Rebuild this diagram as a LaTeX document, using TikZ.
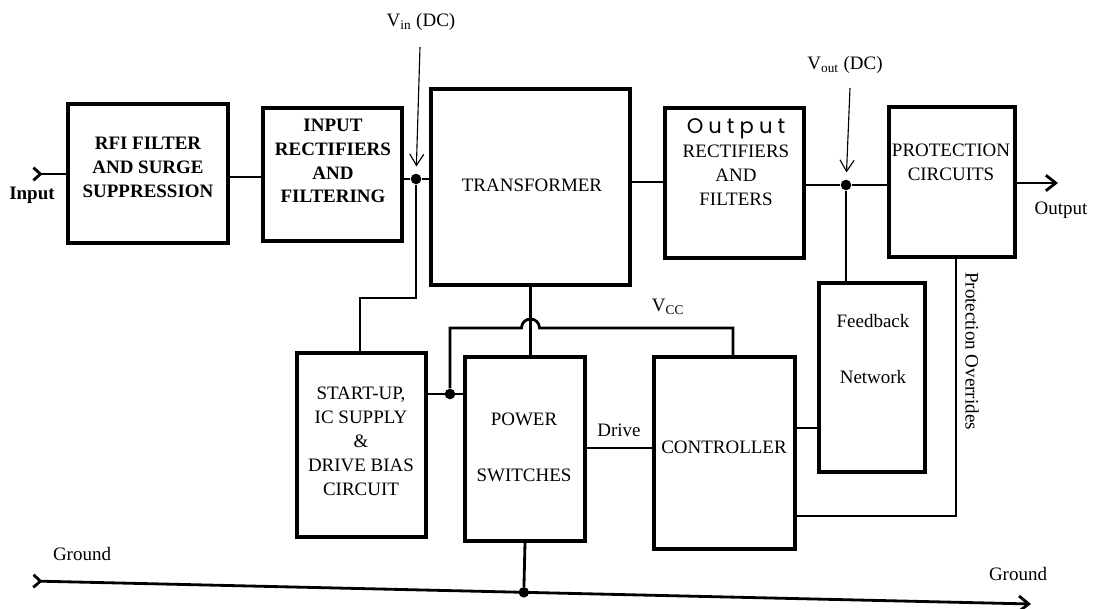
\documentclass[tikz,border=0pt]{standalone}
\usepackage{fontspec}
\setmainfont{Liberation Serif}
\newfontfamily\handfont[LetterSpace=24]{Poppins}
\usetikzlibrary{arrows.meta,fit,calc}

\begin{document}
\begin{tikzpicture}[x=0.025cm,y=-0.025cm,
  blk/.style={draw, line width=2.4pt, inner sep=0pt},
  txt/.style={align=center, inner sep=0pt, font=\fontsize{13.5}{17}\selectfont},
  btxt/.style={txt, font=\fontsize{13.5}{17}\selectfont\bfseries},
  wire/.style={line width=2pt},
  feed/.style={line width=0.8pt, -{Straight Barb[length=8pt,width=10pt]}},
  tail/.style={{Straight Barb[reversed,length=5pt,width=9pt]}-},
  dot/.style={circle, fill, inner sep=0pt, minimum size=7.5pt}
]
  \useasboundingbox (0,0) rectangle (1093,609);

  % blocks
  \node[blk, fit={(68,104) (228,243)}] (rfi) {};
  \node[blk, fit={(263,108) (402,241)}] (inrect) {};
  \node[blk, fit={(431,89) (630,285)}] (trans) {};
  \node[blk, fit={(665,108) (804,258)}] (outrect) {};
  \node[blk, fit={(889,107) (1015,257)}] (prot) {};
  \node[blk, fit={(819,283) (925,472)}] (fb) {};
  \node[blk, fit={(654,357) (795,549)}] (ctrl) {};
  \node[blk, fit={(465,357) (585,541)}] (pwr) {};
  \node[blk, fit={(297,353) (426,537)}] (su) {};

  % block texts
  \node[btxt] (rfi-t) at (148,167) {RFI FILTER\\AND SURGE\\SUPPRESSION};
  \node[btxt] (inrect-t) at (333,161) {INPUT\\RECTIFIERS\\AND\\FILTERING};
  \node[txt] (trans-t) at (532,185) {TRANSFORMER};
  \node[txt] (outrect-t) at (736,162) {{\handfont\fontsize{15}{17}\selectfont Output}\\RECTIFIERS\\AND\\FILTERS};
  \node[txt] (prot-t) at (951,162) {PROTECTION\\CIRCUITS};
  \node[txt] (fb-t) at (873,349) {Feedback\\[8mm]Network};
  \node[txt] (ctrl-t) at (724,447) {CONTROLLER};
  \node[txt] (pwr-t) at (524,447) {POWER\\[8mm]SWITCHES};
  \node[txt] (su-t) at (361,441) {START-UP,\\IC SUPPLY\\\&\\DRIVE BIAS\\CIRCUIT};

  % junctions
  \coordinate (in) at (32,174);
  \coordinate (out) at (1058,183);
  \node[dot] (jin) at (416,179) {};
  \node[dot] (jout) at (846,185) {};
  \node[dot] (jvcc) at (450,394) {};
  \coordinate (vintop) at (420,47);
  \coordinate (vouttop) at (850,88);
  \coordinate (gnda) at (32,581);
  \coordinate (gndb) at (1031,604);
  \coordinate (hop) at (trans.south |- 0,328);
  \node[dot] (gj) at ($(gnda)!(pwr.south)!(gndb)$) {};

  % main path
  \draw[wire, tail] (in) -- (rfi.west |- in);
  \draw[wire] (rfi.east |- 0,177) -- (inrect.west |- 0,177);
  \draw[wire] (inrect.east |- jin) -- (jin) -- (trans.west |- jin);
  \draw[wire] (trans.east |- 0,182) -- (outrect.west |- 0,182);
  \draw[wire] (outrect.east |- jout) -- (jout) -- (prot.west |- jout);
  \draw[wire, -{Straight Barb[length=7pt,width=11pt]}] (prot.east |- out) -- (out);
  \draw[feed, shorten >=5pt] (vintop) -- (jin);
  \draw[feed, shorten >=5pt] (vouttop) -- (jout);

  % lower part
  \draw[wire] (jin) |- (360,298) -- (360,0 |- su.north);
  \draw[wire] (su.east |- jvcc) -- (pwr.west |- jvcc);
  \draw[wire] (trans.south) -- (trans.south |- pwr.north);
  \draw[wire] (jvcc) |- ([xshift=-9*0.025cm]hop)
    arc[start angle=180, end angle=360, radius=9] -- (733,328) -- (733,0 |- ctrl.north);
  \draw[wire] (pwr.east |- 0,448) -- (ctrl.west |- 0,448);
  \draw[wire] (jout) -- (jout |- fb.north);
  \draw[wire] (ctrl.east |- 0,428) -- (fb.west |- 0,428);
  \draw[wire] (956,0 |- prot.south) -- (956,516) -- (ctrl.east |- 0,516);
  \draw[wire, {Straight Barb[reversed,length=5pt,width=9pt]}-{Straight Barb[length=7pt,width=11pt]}] (gnda) -- (gndb);
  \draw[wire] (pwr.south) -- (gj);

  % labels
  \node[btxt] (in-l) at (32,195) {Input};
  \node[txt] (out-l) at (1061,210) {Output};
  \node[txt] (vin-l) at (421,22) {V\textsubscript{in} (DC)};
  \node[txt] (vout-l) at (845,65) {V\textsubscript{out} (DC)};
  \node[txt] (vcc-l) at (668,307) {V\textsubscript{CC}};
  \node[txt] (drive-l) at (619,430) {Drive};
  \node[txt, rotate=-90] (povr-l) at (972,351) {Protection Overrides};
  \node[txt] (gnd-l) at (82,554) {Ground};
  \node[txt] (gnd-r) at (1018,574) {Ground};
\end{tikzpicture}
\end{document}
